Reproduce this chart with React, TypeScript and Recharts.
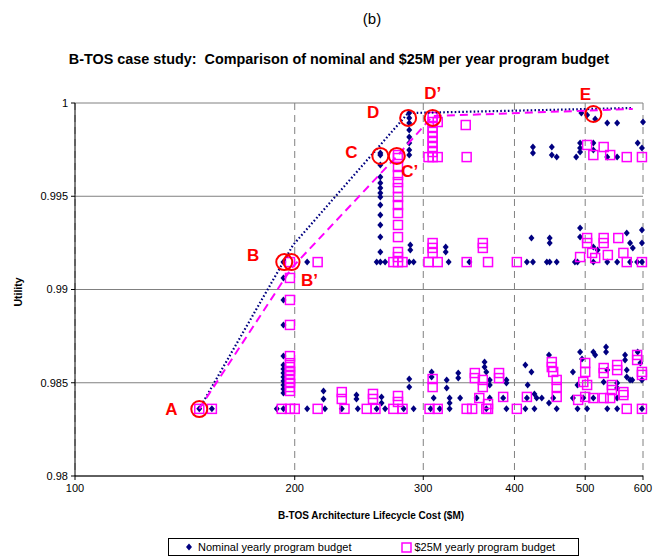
import React from "react";
import { ScatterChart, Scatter, XAxis, YAxis, CartesianGrid } from "recharts";

type Pt = [number, number]; // [cost $M, utility]

const costTicks = [100, 200, 300, 400, 500, 600];
const utilityTicks = [0.98, 0.985, 0.99, 0.995, 1];

// Nominal yearly program budget (navy diamonds)
const nominalBase: Pt[] = [
  [148, 0.9836], [154, 0.9836], [189, 0.9836], [193, 0.9836], [208, 0.9836], [220, 0.9836],
  [232, 0.9836], [244, 0.9836], [259, 0.9836], [266, 0.9836], [282, 0.9836], [291, 0.9836],
  [307, 0.9836], [316, 0.9836], [326, 0.9836], [366, 0.9836], [390, 0.9836], [414, 0.9836],
  [426, 0.9836], [457, 0.9836], [488, 0.9836], [503, 0.9836], [536, 0.9836], [553, 0.9836],
  [598, 0.9836],
];
const nominalLower: Pt[] = [
  [193, 0.98643], [193, 0.98595], [193, 0.98574], [193, 0.98552], [193, 0.98531], [193, 0.9851],
  [193, 0.98488], [193, 0.98466], [193, 0.98445], [219, 0.98456], [219, 0.98413], [243, 0.98434],
  [243, 0.98413], [263, 0.98424], [263, 0.98391], [287, 0.9852], [287, 0.98477], [308, 0.98558],
  [308, 0.98531], [310, 0.98418], [323, 0.98515], [323, 0.98472], [326, 0.98418], [326, 0.98391],
  [335, 0.98552], [335, 0.98525], [337, 0.98418], [355, 0.98418], [364, 0.98611], [364, 0.98584],
  [366, 0.98558], [370, 0.98515], [370, 0.98488], [370, 0.98418], [386, 0.98418], [390, 0.98515],
  [390, 0.98499], [414, 0.98595], [416, 0.98418], [417, 0.98488], [422, 0.98558], [426, 0.9844],
  [429, 0.98418], [436, 0.98418], [446, 0.98649], [446, 0.98391], [452, 0.98418], [481, 0.98558],
  [481, 0.98418], [488, 0.98488], [492, 0.98665], [495, 0.98627], [497, 0.98418], [513, 0.98665],
  [516, 0.98649], [513, 0.98418], [530, 0.98504], [534, 0.98692], [534, 0.98665], [536, 0.98568],
  [553, 0.98499], [553, 0.98472], [553, 0.98418], [567, 0.98649], [567, 0.98622], [570, 0.98568],
  [570, 0.98531], [576, 0.98515], [580, 0.98515], [590, 0.98665], [595, 0.98606], [598, 0.98515],
];
const nominalMid: Pt[] = [
  [193, 0.99147], [193, 0.99062], [193, 0.98944], [193, 0.9881], [208, 0.99147], [262, 0.99201],
  [259, 0.99147], [262, 0.99147], [266, 0.99147], [288, 0.99239], [288, 0.99212], [287, 0.99147],
  [291, 0.99147], [322, 0.99228], [322, 0.99201], [325, 0.99147], [347, 0.99147], [416, 0.99147],
  [422, 0.99276], [424, 0.99147], [443, 0.99147], [447, 0.99276], [447, 0.99249], [447, 0.99147],
  [457, 0.99147], [484, 0.99147], [488, 0.99147], [492, 0.9933], [492, 0.99281], [513, 0.99228],
  [513, 0.99147], [520, 0.99212], [536, 0.99147], [553, 0.99147], [570, 0.99303], [576, 0.99249],
  [576, 0.99147], [581, 0.99223], [589, 0.99147], [598, 0.99319], [598, 0.99249], [598, 0.99147],
];
const nominalUpper: Pt[] = [
  [262, 0.99732], [262, 0.99721], [262, 0.99668], [262, 0.99603], [262, 0.99571], [262, 0.99544],
  [262, 0.99517], [262, 0.99496], [262, 0.99453], [262, 0.99399], [262, 0.99346], [262, 0.99281],
  [287, 0.99946], [287, 0.9992], [287, 0.99893], [287, 0.99855], [287, 0.99818], [287, 0.99786],
  [287, 0.99748], [287, 0.99721], [424, 0.99764], [424, 0.99732], [450, 0.99764], [450, 0.99721],
  [457, 0.9971], [486, 0.9971], [492, 0.99786], [492, 0.99759], [492, 0.99737], [513, 0.99786],
  [513, 0.99748], [536, 0.9971], [553, 0.9971], [590, 0.99786], [598, 0.99759], [494, 0.99946],
  [503, 0.99936], [516, 0.99914], [536, 0.99893], [553, 0.99893], [600, 0.99898],
];

// $25M yearly program budget (magenta squares)
const budgetBase: Pt[] = [
  [148, 0.9836], [154, 0.9836], [192, 0.9836], [197, 0.9836], [200, 0.9836], [215, 0.9836],
  [234, 0.9836], [251, 0.9836], [258, 0.9836], [273, 0.9836], [281, 0.9836], [306, 0.9836],
  [314, 0.9836], [344, 0.9836], [350, 0.9836], [366, 0.9836], [368, 0.9836], [403, 0.9836],
  [570, 0.9836], [598, 0.9836],
];
const budgetLower: Pt[] = [
  [197, 0.98643], [197, 0.98605], [197, 0.98584], [197, 0.98563], [197, 0.98542], [197, 0.9852],
  [197, 0.98499], [197, 0.98477], [197, 0.98456], [232, 0.9845], [232, 0.98413], [256, 0.9844],
  [256, 0.98413], [277, 0.98429], [277, 0.98397], [309, 0.9852], [309, 0.98477], [353, 0.98552],
  [353, 0.98525], [358, 0.98418], [362, 0.98515], [362, 0.98477], [368, 0.98386], [381, 0.98552],
  [381, 0.98525], [386, 0.98424], [416, 0.98424], [450, 0.98611], [450, 0.98584], [452, 0.98558],
  [457, 0.98515], [457, 0.98477], [457, 0.98424], [489, 0.98408], [500, 0.98606], [500, 0.98558],
  [497, 0.98504], [503, 0.98488], [500, 0.98424], [513, 0.98418], [530, 0.98579], [530, 0.98552],
  [530, 0.98418], [541, 0.98418], [544, 0.98488], [544, 0.98461], [553, 0.98595], [553, 0.98568],
  [564, 0.9845], [564, 0.98434], [589, 0.98649], [589, 0.98622], [598, 0.98558], [598, 0.98542],
];
const budgetMid: Pt[] = [
  [197, 0.99147], [197, 0.99062], [197, 0.98944], [197, 0.9881], [215, 0.99147], [273, 0.99147],
  [277, 0.99174], [277, 0.99147], [281, 0.99147], [305, 0.99147], [309, 0.99249], [309, 0.99223],
  [309, 0.99196], [314, 0.99147], [344, 0.99147], [362, 0.99249], [362, 0.99223], [368, 0.99147],
  [403, 0.99147], [492, 0.99174], [503, 0.99276], [503, 0.99249], [511, 0.99196], [516, 0.99169],
  [530, 0.99276], [530, 0.99249], [537, 0.99185], [555, 0.99276], [564, 0.99196], [570, 0.99147],
  [598, 0.99147],
];
const budgetUpper: Pt[] = [
  [277, 0.99721], [277, 0.99705], [277, 0.99657], [277, 0.99614], [277, 0.99576], [277, 0.99544],
  [277, 0.99496], [277, 0.99453], [277, 0.9941], [277, 0.99346], [277, 0.99281], [277, 0.99201],
  [309, 0.99925], [309, 0.99898], [309, 0.99871], [309, 0.99845], [309, 0.99818], [309, 0.99791],
  [309, 0.99764], [309, 0.99737], [309, 0.9971], [314, 0.99898], [314, 0.9971], [305, 0.9971],
  [343, 0.99882], [344, 0.9971], [503, 0.99775], [513, 0.99721], [530, 0.99764], [541, 0.99721],
  [570, 0.9971], [598, 0.9971],
];

// frontier lines
const nominalFront: Pt[] = [[148, 0.9836], [199, 0.99239], [286, 0.99946], [581, 0.99973]];
const budgetFront: Pt[] = [[148, 0.9836], [198, 0.99115], [277, 0.99721], [309, 0.9993], [581, 0.99968]];

// marked designs
const markLabels = ["A", "B", "B\u2019", "C", "C\u2019", "D", "D\u2019", "E"];
const markCost = [148, 193.5, 198, 262, 276, 286, 309, 513];
const markUtility = [0.98359, 0.99147, 0.99147, 0.99716, 0.99716, 0.9992, 0.9992, 0.99941];

const labelOffset: Record<string, [number, number]> = {
  A: [-28, 0],
  B: [-31, -7],
  "B\u2019": [18, 18],
  C: [-29, -3],
  "C\u2019": [13, 16],
  D: [-35, -5],
  "D\u2019": [0, -24],
  E: [-8, -20],
};

const NAVY = "#000080";
const MAGENTA = "#FF00FF";

const toRows = (pts: Pt[]) => pts.map(([cost, utility]) => ({ cost, utility }));

const nominalData = toRows([...nominalBase, ...nominalLower, ...nominalMid, ...nominalUpper]);
const budgetData = toRows([...budgetBase, ...budgetLower, ...budgetMid, ...budgetUpper]);
const markData = markLabels.map((label, i) => ({ label, cost: markCost[i], utility: markUtility[i] }));

const Diamond = (props: any) => {
  const { cx, cy } = props;
  if (cx == null || cy == null) return <g />;
  return <polygon points={`${cx},${cy - 3.5} ${cx + 3},${cy} ${cx},${cy + 3.5} ${cx - 3},${cy}`} fill={NAVY} />;
};

const Square = (props: any) => {
  const { cx, cy } = props;
  if (cx == null || cy == null) return <g />;
  return <rect x={cx - 4.5} y={cy - 4.5} width={9} height={9} fill="none" stroke={MAGENTA} strokeWidth={1.5} />;
};

const Mark = (props: any) => {
  const { cx, cy, payload } = props;
  if (cx == null || cy == null) return <g />;
  const [dx, dy] = labelOffset[payload.label] || [0, 0];
  return (
    <g>
      <circle cx={cx} cy={cy} r={8} fill="none" stroke="#FF0000" strokeWidth={2} />
      <text
        x={cx + dx}
        y={cy + dy}
        fill="#FF0000"
        fontSize={17}
        fontWeight="bold"
        textAnchor="middle"
        dominantBaseline="central"
      >
        {payload.label}
      </text>
    </g>
  );
};

const noDot = () => <g />;

export default function App() {
  const font = "'Liberation Sans', Arial, sans-serif";
  return (
    <div
      style={{
        position: "absolute",
        left: 0,
        top: 0,
        width: 654,
        height: 560,
        background: "#fff",
        fontFamily: font,
        color: "#000",
      }}
    >
      <div style={{ position: "absolute", left: 0, width: 744, top: 10, textAlign: "center", fontSize: 15 }}>
        (b)
      </div>
      <div
        style={{
          position: "absolute",
          left: 0,
          width: 678,
          top: 51,
          textAlign: "center",
          fontSize: 14.4,
          fontWeight: "bold",
        }}
      >
        B-TOS case study:&nbsp; Comparison of nominal and $25M per year program budget
      </div>
      <ScatterChart width={654} height={560} margin={{ top: 103, right: 11, bottom: 54, left: 0 }}>
        <CartesianGrid horizontal vertical={false} stroke="#808080" />
        <CartesianGrid horizontal={false} vertical stroke="#808080" strokeDasharray="7 5" />
        <XAxis
          dataKey="cost"
          type="number"
          scale="log"
          domain={[100, 600]}
          ticks={costTicks}
          height={30}
          tickSize={4}
          tickMargin={4}
          stroke="#000"
          tick={{ fontSize: 11, fill: "#000" }}
        />
        <YAxis
          dataKey="utility"
          type="number"
          domain={[0.98, 1]}
          ticks={utilityTicks}
          width={75}
          tickSize={4}
          tickMargin={3}
          stroke="#000"
          tick={{ fontSize: 11, fill: "#000" }}
          tickFormatter={(v: number) => String(v)}
        />
        <Scatter data={nominalData} shape={Diamond} isAnimationActive={false} />
        <Scatter data={budgetData} shape={Square} isAnimationActive={false} />
        <Scatter
          data={toRows(nominalFront)}
          line={{ stroke: NAVY, strokeWidth: 2.2, strokeDasharray: "1.6 2.2" }}
          shape={noDot}
          isAnimationActive={false}
        />
        <Scatter
          data={toRows(budgetFront)}
          line={{ stroke: MAGENTA, strokeWidth: 2, strokeDasharray: "8 5" }}
          shape={noDot}
          isAnimationActive={false}
        />
        <Scatter data={markData} shape={Mark} isAnimationActive={false} />
      </ScatterChart>
      <div
        style={{
          position: "absolute",
          left: 18,
          top: 292,
          transform: "translate(-50%, -50%) rotate(-90deg)",
          fontSize: 10.5,
          fontWeight: "bold",
        }}
      >
        Utility
      </div>
      <div
        style={{
          position: "absolute",
          left: 0,
          width: 742,
          top: 510,
          textAlign: "center",
          fontSize: 10,
          fontWeight: "bold",
        }}
      >
        B-TOS Architecture Lifecycle Cost ($M)
      </div>
      <div
        style={{
          position: "absolute",
          left: 168,
          top: 538,
          width: 411,
          height: 18,
          border: "1px solid #000",
          boxSizing: "border-box",
          fontSize: 11,
          display: "flex",
          alignItems: "center",
        }}
      >
        <svg width={10} height={10} style={{ marginLeft: 15, marginRight: 4 }}>
          <polygon points="5,1.5 8,5 5,8.5 2,5" fill={NAVY} />
        </svg>
        <span>Nominal yearly program budget</span>
        <svg width={11} height={11} style={{ marginLeft: 50, marginRight: 2 }}>
          <rect x={1} y={1} width={9} height={9} fill="none" stroke={MAGENTA} strokeWidth={1.5} />
        </svg>
        <span>$25M yearly program budget</span>
      </div>
    </div>
  );
}
